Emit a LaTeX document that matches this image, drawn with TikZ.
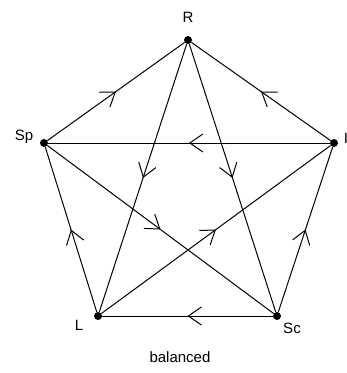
\documentclass[tikz,border=0pt]{standalone}
\usepackage{fontspec}
\setmainfont{Liberation Sans}
\usetikzlibrary{arrows.meta,decorations.markings}
\tikzset{
  vtx/.style={circle,fill=black,inner sep=0pt,minimum size=8pt},
  lbl/.style={font=\fontsize{15}{17}\selectfont,inner sep=0pt},
  edge/.style={line width=1pt,postaction={decorate},
    decoration={markings,mark=at position 0.5 with {\arrow{Straight Barb[length=13pt,width=18pt,line width=1pt]}}}}
}
\begin{document}
\begin{tikzpicture}[x=1pt,y=-1pt]
\useasboundingbox (0,0) rectangle (347,373);
\node[vtx] (R) at (188,40) {};
\node[vtx] (Sp) at (44,143) {};
\node[vtx] (I) at (334,143) {};
\node[vtx] (L) at (98,316) {};
\node[vtx] (Sc) at (277,316) {};
\node[lbl] (lR) at (188,17) {R};
\node[lbl] (lSp) at (24,137) {Sp};
\node[lbl] (lI) at (346,138) {I};
\node[lbl] (lL) at (79,325) {L};
\node[lbl] (lSc) at (292,328) {Sc};
\node[lbl] (cap) at (180,357) {balanced};
\draw[edge] (Sp) -- (R);
\draw[edge] (I) -- (R);
\draw[edge] (R) -- (L);
\draw[edge] (R) -- (Sc);
\draw[edge] (Sp) -- (Sc);
\draw[edge] (L) -- (I);
\draw[edge] (I) -- (Sp);
\draw[edge] (L) -- (Sp);
\draw[edge] (Sc) -- (I);
\draw[edge] (Sc) -- (L);
\end{tikzpicture}
\end{document}
